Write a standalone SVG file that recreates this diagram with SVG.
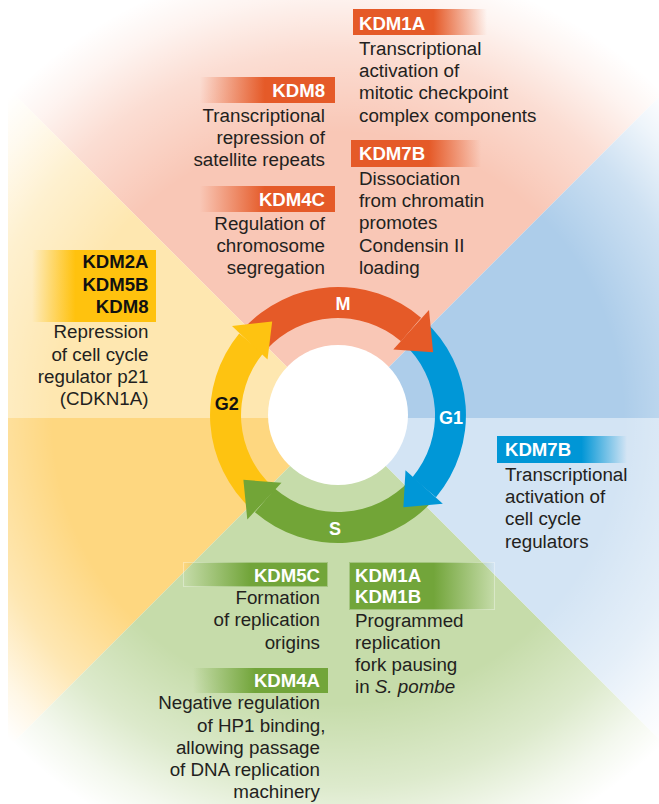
<svg xmlns="http://www.w3.org/2000/svg" width="659" height="804" viewBox="0 0 659 804">
<defs>
<style>
.t{font-family:"Liberation Sans",Arial,Helvetica,sans-serif;font-size:18.8px;fill:#231f20}
.h{font-family:"Liberation Sans",Arial,Helvetica,sans-serif;font-size:18.6px;font-weight:bold;fill:#ffffff}
.k{fill:#111111}
.e{text-anchor:end}
.c{font-family:"Liberation Sans",Arial,Helvetica,sans-serif;font-size:18px;font-weight:bold;text-anchor:middle;fill:#ffffff}
.ob{fill:none;stroke:#ffffff;stroke-opacity:0.35;stroke-width:1}
</style>
<radialGradient id="vig" gradientUnits="userSpaceOnUse" cx="338" cy="418" r="460">
<stop offset="0.62" stop-color="#ffffff" stop-opacity="0"/>
<stop offset="0.8" stop-color="#ffffff" stop-opacity="0.4"/>
<stop offset="0.92" stop-color="#ffffff" stop-opacity="0.8"/>
<stop offset="1" stop-color="#ffffff" stop-opacity="1"/>
</radialGradient>
<linearGradient id="oR" x1="0" y1="0" x2="1" y2="0">
<stop offset="0" stop-color="#e55a28"/><stop offset="0.6" stop-color="#e55a28"/><stop offset="1" stop-color="#e55a28" stop-opacity="0"/>
</linearGradient>
<linearGradient id="oL" x1="0" y1="0" x2="1" y2="0">
<stop offset="0" stop-color="#e55a28" stop-opacity="0"/><stop offset="0.48" stop-color="#e55a28"/><stop offset="1" stop-color="#e55a28"/>
</linearGradient>
<linearGradient id="bR" x1="0" y1="0" x2="1" y2="0">
<stop offset="0" stop-color="#0096d6"/><stop offset="0.65" stop-color="#0096d6"/><stop offset="1" stop-color="#0096d6" stop-opacity="0"/>
</linearGradient>
<linearGradient id="gL" x1="0" y1="0" x2="1" y2="0">
<stop offset="0" stop-color="#72a53a" stop-opacity="0"/><stop offset="0.46" stop-color="#72a53a"/><stop offset="1" stop-color="#72a53a"/>
</linearGradient>
<linearGradient id="gR" x1="0" y1="0" x2="1" y2="0">
<stop offset="0" stop-color="#72a53a"/><stop offset="0.58" stop-color="#72a53a"/><stop offset="1" stop-color="#72a53a" stop-opacity="0"/>
</linearGradient>
<linearGradient id="yL" x1="0" y1="0" x2="1" y2="0">
<stop offset="0" stop-color="#ffc20e" stop-opacity="0"/><stop offset="0.35" stop-color="#ffc20e"/><stop offset="1" stop-color="#ffc20e"/>
</linearGradient>
</defs>

<g id="background">
<rect x="0" y="0" width="659" height="804" fill="#ffffff"/>
<polygon points="338,418 8,88 8,0 659,0 659,97" fill="#f9c7b6"/>
<polygon points="338,418 8,88 8,418" fill="#fee7b0"/>
<polygon points="338,418 8,418 8,748" fill="#fed780"/>
<polygon points="338,418 8,748 8,804 659,804 659,739" fill="#c6dcaa"/>
<polygon points="338,418 659,739 659,418" fill="#d3e4f4"/>
<polygon points="338,418 659,418 659,97" fill="#adcdea"/>
<rect x="0" y="0" width="659" height="804" fill="url(#vig)"/>
<circle cx="338" cy="415" r="70" fill="#ffffff"/>
</g>

<g id="connectors">
<path d="M242.9 329.4 A128 128 0 0 1 421.1 317.7 L401.0 341.2 A97 97 0 0 0 265.9 350.1 Z" fill="#e55a28"/>
<path d="M423.6 319.9 A128 128 0 0 1 436.0 497.3 L412.3 477.4 A97 97 0 0 0 402.9 342.9 Z" fill="#0097d7"/>
<path d="M433.1 500.6 A128 128 0 0 1 254.9 512.3 L275.0 488.8 A97 97 0 0 0 410.1 479.9 Z" fill="#72a537"/>
<path d="M252.4 510.1 A128 128 0 0 1 239.2 333.6 L263.2 353.3 A97 97 0 0 0 273.1 487.1 Z" fill="#fec311"/>
<polygon points="393.3,349.6 429.0,310.0 433.1,352.3" fill="#e55a28"/>
<polygon points="405.5,470.3 442.8,503.8 403.4,507.2" fill="#0097d7"/>
<polygon points="281.5,482.8 247.3,519.4 243.4,479.8" fill="#72a537"/>
<polygon points="267.5,359.6 232.0,326.0 272.2,321.4" fill="#fec311"/>
<text class="c" x="343" y="310">M</text>
<text class="c" x="451" y="423.5">G1</text>
<text class="c" x="335" y="534.5">S</text>
<text class="c" x="226.7" y="410" style="fill:#111111">G2</text>
</g>

<g id="kdm1a-m">
<rect x="353" y="9" width="134" height="26" fill="url(#oR)"/>
<text class="h" x="359" y="29.5">KDM1A</text>
<text class="t" x="359" y="55">Transcriptional</text>
<text class="t" x="359" y="77.2">activation of</text>
<text class="t" x="359" y="99.4">mitotic checkpoint</text>
<text class="t" x="359" y="121.6">complex components</text>
</g>

<g id="kdm8-m">
<rect x="200" y="77" width="135" height="26" fill="url(#oL)"/>
<text class="h e" x="325" y="96.7">KDM8</text>
<text class="t e" x="325" y="121.7">Transcriptional</text>
<text class="t e" x="325" y="143.9">repression of</text>
<text class="t e" x="325" y="166.1">satellite repeats</text>
</g>

<g id="kdm7b-m">
<rect x="351" y="140" width="130" height="27" fill="url(#oR)"/>
<text class="h" x="359" y="160">KDM7B</text>
<text class="t" x="359" y="185">Dissociation</text>
<text class="t" x="359" y="207.2">from chromatin</text>
<text class="t" x="359" y="229.4">promotes</text>
<text class="t" x="359" y="251.6">Condensin II</text>
<text class="t" x="359" y="273.8">loading</text>
</g>

<g id="kdm4c-m">
<rect x="200" y="186" width="135" height="26" fill="url(#oL)"/>
<text class="h e" x="325" y="205.5">KDM4C</text>
<text class="t e" x="325" y="230">Regulation of</text>
<text class="t e" x="325" y="252.2">chromosome</text>
<text class="t e" x="325" y="274.4">segregation</text>
</g>

<g id="kdm-g2">
<rect x="32" y="250" width="124" height="72" fill="url(#yL)"/>
<text class="h e k" x="148.5" y="268.3">KDM2A</text>
<text class="h e k" x="148.5" y="290.6">KDM5B</text>
<text class="h e k" x="148.5" y="313">KDM8</text>
<text class="t e" x="148.5" y="338.3">Repression</text>
<text class="t e" x="148.5" y="360.5">of cell cycle</text>
<text class="t e" x="148.5" y="382.7">regulator p21</text>
<text class="t e" x="148.5" y="404.9">(CDKN1A)</text>
</g>

<g id="kdm7b-g1">
<rect x="497" y="436" width="130" height="27" fill="url(#bR)"/>
<text class="h" x="505" y="455.5">KDM7B</text>
<text class="t" x="505" y="481">Transcriptional</text>
<text class="t" x="505" y="503.2">activation of</text>
<text class="t" x="505" y="525.4">cell cycle</text>
<text class="t" x="505" y="547.6">regulators</text>
</g>

<g id="kdm5c-s">
<rect x="183" y="562" width="145" height="25" fill="url(#gL)"/>
<rect class="ob" x="183.5" y="562.5" width="144" height="24"/>
<text class="h e" x="320" y="581.6">KDM5C</text>
<text class="t e" x="320" y="604">Formation</text>
<text class="t e" x="320" y="626.4">of replication</text>
<text class="t e" x="320" y="648.6">origins</text>
</g>

<g id="kdm1ab-s">
<rect x="349" y="562" width="146" height="48" fill="url(#gR)"/>
<rect class="ob" x="349.5" y="562.5" width="145" height="47"/>
<text class="h" x="355" y="581.6">KDM1A</text>
<text class="h" x="355" y="603.4">KDM1B</text>
<text class="t" x="355" y="626.6">Programmed</text>
<text class="t" x="355" y="648.6">replication</text>
<text class="t" x="355" y="670.8">fork pausing</text>
<text class="t" x="355" y="692.8">in <tspan font-style="italic">S. pombe</tspan></text>
</g>

<g id="kdm4a-s">
<rect x="193" y="668" width="135" height="25" fill="url(#gL)"/>
<text class="h e" x="320" y="687.4">KDM4A</text>
<text class="t e" x="320" y="709.3">Negative regulation</text>
<text class="t e" x="325.5" y="731.5">of HP1 binding,</text>
<text class="t e" x="320" y="753.7">allowing passage</text>
<text class="t e" x="320" y="775.9">of DNA replication</text>
<text class="t e" x="320" y="798.1">machinery</text>
</g>
</svg>
